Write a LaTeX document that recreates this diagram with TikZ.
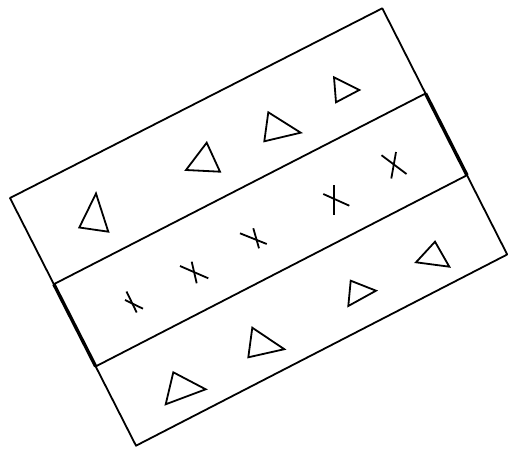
\documentclass[tikz,border=0pt]{standalone}
\usetikzlibrary{calc}
\begin{document}
\begin{tikzpicture}[x=1pt,y=-1pt,
  thinline/.style={line width=1.8pt,line join=round},
  thickline/.style={line width=3.4pt},
  tri/.style={line width=1.8pt,line join=miter},
  crs/.style={line width=1.8pt}]
\useasboundingbox (0,0) rectangle (508,449);
% outer rectangle corners
\coordinate (A) at (382.3,8.3);
\coordinate (B) at (507.2,254.5);
\coordinate (C) at (136,445.7);
\coordinate (D) at (10,198);
\draw[thinline] (A) -- (B) -- (C) -- (D) -- cycle;
% dividers
\coordinate (P1) at ($(D)!0.348!(C)$);
\coordinate (Q1) at ($(A)!0.346!(B)$);
\coordinate (P2) at ($(D)!0.68!(C)$);
\coordinate (Q2) at ($(A)!0.678!(B)$);
\draw[thinline] (P1) -- (Q1);
\draw[thinline] (P2) -- (Q2);
\draw[thickline] (P1) -- (P2);
\draw[thickline] (Q1) -- (Q2);
% triangles top band
\draw[tri] (96,193.5) -- (108.3,231.7) -- (79.3,227.5) -- cycle;
\draw[tri] (206.7,142.7) -- (220,171.7) -- (186,170) -- cycle;
\draw[tri] (268.3,112.3) -- (300.7,132.7) -- (264.3,141.3) -- cycle;
\draw[tri] (334,77.3) -- (359.3,90) -- (336,102.3) -- cycle;
% triangles bottom band
\draw[tri] (435,241.7) -- (449.3,266.7) -- (416,262.3) -- cycle;
\draw[tri] (350.7,280.7) -- (376,290.7) -- (348.3,306) -- cycle;
\draw[tri] (252.3,327.7) -- (284.3,349.2) -- (248.3,357.3) -- cycle;
\draw[tri] (173.3,372.3) -- (205.7,389.3) -- (165.7,404.3) -- cycle;
% crosses middle band
\draw[crs] (126.5,291.5) -- (136.7,312.5);
\draw[crs] (125,300) -- (143,308.7);
\draw[crs] (180,266) -- (208.3,278.3);
\draw[crs] (191.7,261.7) -- (196.7,283.3);
\draw[crs] (240,233.3) -- (266.7,244);
\draw[crs] (253.3,228.3) -- (259,248.3);
\draw[crs] (323.3,194) -- (349.3,205.7);
\draw[crs] (334,185) -- (334,215);
\draw[crs] (381.5,155.2) -- (406.5,174);
\draw[crs] (396,152) -- (391.3,178.5);
\end{tikzpicture}
\end{document}
